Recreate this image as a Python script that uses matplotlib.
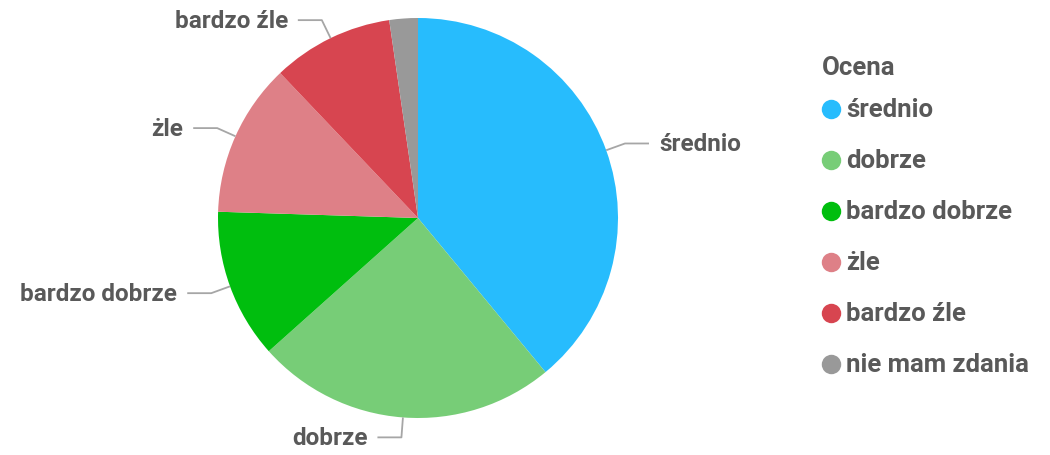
import numpy as np
import matplotlib
matplotlib.use('Agg')
import matplotlib.pyplot as plt
from matplotlib.lines import Line2D

# data (share of answers, %)
categories = ['średnio', 'dobrze', 'bardzo dobrze', 'żle', 'bardzo źle', 'nie mam zdania']
values = [39.0, 24.4, 12.1, 12.4, 9.8, 2.3]
colors = ['#27bcfd', '#77cd77', '#00be0e', '#de8087', '#d74550', '#999999']
legend_title = 'Ocena'

plt.rcParams['font.family'] = ['Roboto', 'DejaVu Sans']
text_color = '#595959'
line_color = '#a6a6a6'

fig = plt.figure(figsize=(10.5, 4.56), dpi=100)
ax = fig.add_axes([218 / 1050, 37 / 456, 400 / 1050, 400 / 456])

wedges, _ = ax.pie(values, colors=colors, startangle=90, counterclock=False,
                   radius=1.0, wedgeprops=dict(linewidth=0))
ax.set_xlim(-1, 1)
ax.set_ylim(-1, 1)
ax.set_aspect('equal')
ax.axis('off')

# outside labels with elbow leader lines (skip the tiny slice)
for w, lab, v in zip(wedges, categories, values):
  if v < 5:
    continue
  ang = np.deg2rad((w.theta1 + w.theta2) / 2)
  x0, y0 = np.cos(ang), np.sin(ang)
  x1, y1 = 1.1 * x0, 1.1 * y0
  side = 1 if x0 >= 0 else -1
  x2 = x1 + side * 0.12
  ax.plot([x0, x1, x2], [y0, y1, y1], color=line_color, lw=1.3,
          clip_on=False, solid_capstyle='butt')
  ax.text(x2 + side * 0.05, y1, lab, ha='left' if side > 0 else 'right',
          va='center', fontsize=17.5, fontweight='bold', color=text_color,
          clip_on=False)

# legend, placed by hand
fig.text(822 / 1050, 1 - 68 / 456, legend_title, fontsize=18.5,
         fontweight='bold', color=text_color, va='center', ha='left')
for i, (lab, c) in enumerate(zip(categories, colors)):
  y = 1 - (110 + 51 * i) / 456
  fig.add_artist(Line2D([831 / 1050], [y], marker='o', linestyle='none',
                        markersize=14, markerfacecolor=c, markeredgewidth=0,
                        transform=fig.transFigure))
  fig.text(846 / 1050, y, lab, fontsize=18.5, fontweight='bold',
           color=text_color, va='center', ha='left')

fig.savefig('out.png', dpi=100, facecolor='white')
